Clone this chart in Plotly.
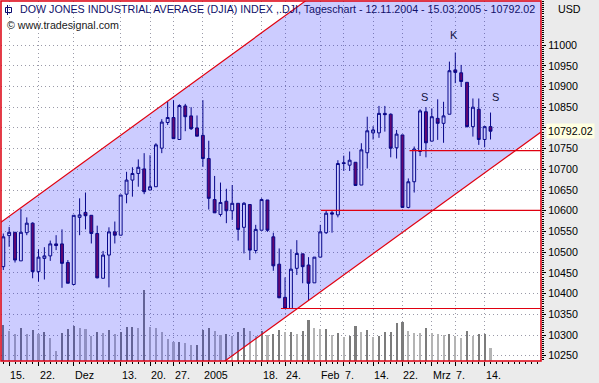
import plotly.graph_objects as go

# ---------------- data ----------------
DATES = [
    "2004-11-12",
    "2004-11-15", "2004-11-16", "2004-11-17", "2004-11-18", "2004-11-19",
    "2004-11-22", "2004-11-23", "2004-11-24", "2004-11-26",
    "2004-11-29", "2004-11-30", "2004-12-01", "2004-12-02", "2004-12-03",
    "2004-12-06", "2004-12-07", "2004-12-08", "2004-12-09", "2004-12-10",
    "2004-12-13", "2004-12-14", "2004-12-15", "2004-12-16", "2004-12-17",
    "2004-12-20", "2004-12-21", "2004-12-22", "2004-12-23",
    "2004-12-27", "2004-12-28", "2004-12-29", "2004-12-30", "2004-12-31",
    "2005-01-03", "2005-01-04", "2005-01-05", "2005-01-06", "2005-01-07",
    "2005-01-10", "2005-01-11", "2005-01-12", "2005-01-13", "2005-01-14",
    "2005-01-18", "2005-01-19", "2005-01-20", "2005-01-21",
    "2005-01-24", "2005-01-25", "2005-01-26", "2005-01-27", "2005-01-28",
    "2005-01-31", "2005-02-01", "2005-02-02", "2005-02-03", "2005-02-04",
    "2005-02-07", "2005-02-08", "2005-02-09", "2005-02-10", "2005-02-11",
    "2005-02-14", "2005-02-15", "2005-02-16", "2005-02-17", "2005-02-18",
    "2005-02-22", "2005-02-23", "2005-02-24", "2005-02-25",
    "2005-02-28", "2005-03-01", "2005-03-02", "2005-03-03", "2005-03-04",
    "2005-03-07", "2005-03-08", "2005-03-09", "2005-03-10", "2005-03-11",
    "2005-03-14", "2005-03-15",
]
OPEN = [10465, 10540, 10548, 10479, 10547, 10570, 10453, 10485, 10491, 10520,
        10520, 10475, 10422, 10584, 10596, 10589, 10545, 10437, 10493, 10549,
        10541, 10640, 10674, 10690, 10701, 10650, 10658, 10751, 10813,
        10825, 10772, 10853, 10829, 10800, 10782, 10726, 10627, 10591, 10623,
        10600, 10618, 10560, 10615, 10504, 10553, 10626, 10537, 10471,
        10391, 10364, 10461, 10496, 10469, 10426, 10488, 10547, 10595, 10590,
        10716, 10710, 10717, 10662, 10740, 10788, 10788, 10835, 10833, 10752,
        10783, 10608, 10670, 10743, 10839, 10768, 10823, 10811, 10833,
        10940, 10933, 10910, 10803, 10845, 10772, 10803]
HIGH = [10545, 10561, 10548, 10604, 10584, 10572, 10507, 10512, 10528, 10541,
        10555, 10481, 10589, 10630, 10644, 10589, 10564, 10503, 10560, 10574,
        10638, 10694, 10705, 10724, 10739, 10734, 10763, 10821, 10863,
        10867, 10857, 10858, 10850, 10830, 10867, 10769, 10684, 10668, 10653,
        10662, 10618, 10621, 10615, 10566, 10630, 10626, 10547, 10509,
        10439, 10507, 10529, 10496, 10488, 10488, 10566, 10600, 10600, 10722,
        10733, 10743, 10717, 10763, 10827, 10804, 10853, 10853, 10835, 10795,
        10783, 10678, 10755, 10845, 10850, 10847, 10869, 10863, 10960,
        10982, 10952, 10910, 10871, 10871, 10803, 10837]
LOW = [10457, 10513, 10475, 10479, 10541, 10437, 10429, 10434, 10479, 10505,
       10414, 10425, 10422, 10541, 10555, 10521, 10437, 10437, 10415, 10521,
       10541, 10618, 10634, 10658, 10640, 10650, 10658, 10739, 10807,
       10774, 10772, 10792, 10795, 10780, 10706, 10603, 10595, 10586, 10570,
       10578, 10528, 10497, 10481, 10497, 10553, 10549, 10455, 10389,
       10364, 10364, 10445, 10425, 10384, 10426, 10488, 10544, 10547, 10584,
       10696, 10696, 10661, 10662, 10702, 10772, 10776, 10791, 10729, 10726,
       10608, 10606, 10644, 10732, 10729, 10768, 10771, 10764, 10833,
       10908, 10899, 10801, 10779, 10759, 10753, 10772]
CLOSE = [10537, 10548, 10481, 10548, 10570, 10453, 10488, 10491, 10520, 10516,
         10473, 10425, 10589, 10590, 10588, 10545, 10438, 10493, 10549, 10541,
         10638, 10674, 10690, 10705, 10646, 10658, 10759, 10814, 10825,
         10774, 10854, 10827, 10798, 10780, 10726, 10630, 10595, 10620, 10600,
         10618, 10555, 10618, 10505, 10555, 10627, 10553, 10467, 10390,
         10364, 10459, 10497, 10465, 10425, 10488, 10549, 10594, 10592, 10714,
         10714, 10722, 10661, 10747, 10793, 10795, 10835, 10832, 10751, 10785,
         10608, 10670, 10749, 10841, 10764, 10827, 10811, 10829, 10938,
         10934, 10912, 10803, 10850, 10772, 10803, 10792.02]
VOLUME = [357, 300, 267, 327, 273, 310, 273, 293, 233, 100,
          280, 323, 350, 333, 317, 250, 293, 280, 310, 273,
          293, 340, 340, 327, 707, 340, 333, 293, 217,
          193, 193, 183, 160, 160, 307, 327, 300, 260, 267,
          250, 293, 327, 300, 250, 300, 260, 267, 310,
          287, 293, 267, 300, 407, 327, 317, 320, 260, 280,
          240, 250, 350, 287, 307, 240, 250, 287, 293, 377,
          390, 300, 283, 277, 333, 283, 267, 260, 267,
          250, 233, 300, 250, 267, 267, 133]

TICK_DATES = ["2004-11-15", "2004-11-22", "2004-12-01", "2004-12-13", "2004-12-20",
              "2004-12-27", "2005-01-03", "2005-01-10", "2005-01-18", "2005-01-24",
              "2005-02-01", "2005-02-07", "2005-02-14", "2005-02-22", "2005-03-01",
              "2005-03-07", "2005-03-14"]
TICK_TEXT = ["15.", "22.", "Dez", "13.", "20.", "27.", "2005", "", "18.", "24.",
             "Feb", "7.", "14.", "22.", "Mrz", "7.", "14."]
PRICE_TICKS = [10250, 10300, 10350, 10400, 10450, 10500, 10550, 10600, 10650,
               10700, 10750, 10800, 10850, 10900, 10950, 11000]
PRICE_TICK_TEXT = ["10250", "10300", "10350", "10400", "10450", "10500", "10550",
                   "10600", "10650", "10700", "10750", "", "10850", "10900",
                   "10950", "11000"]
LAST_PRICE = 10792.02

CHANNEL_X = [-0.4, 91.6]
CHANNEL_UPPER = [10572.1, 11519.7]
CHANNEL_LOWER = [9845.5, 10790.0]
SUPPORT_LEVELS = [10364, 10601, 10745]
SUPPORT_START = [47.3, 54.1, 69.2]
PATTERN_LABELS = ["S", "K", "S"]
PATTERN_X = [71.8, 76.7, 83.9]
PATTERN_Y = [10875, 11024, 10875]

TITLE = "DOW JONES INDUSTRIAL AVERAGE (DJIA) INDEX ,.DJI, Tageschart - 12.11.2004 - 15.03.2005 - 10792.02"
SUBTITLE = "© www.tradesignal.com"

# ---------------- figure ----------------
X = list(range(len(DATES)))
X_RANGE = [-0.39, 91.6]
PRICE_RANGE = [10237.3, 11106.3]
FONT = "Liberation Sans, Arial, sans-serif"
FS = 10.7
RED = "#e00010"
NAVY = "#0a0a6e"

vol_colors = []
for i, v in enumerate(VOLUME):
    if i == 0 or v >= VOLUME[i - 1]:
        vol_colors.append("#7c7c7c")
    else:
        vol_colors.append("#b4b4b4")

fig = go.Figure()

# volume bars (base axis, drawn below the price subplot)
fig.add_trace(go.Bar(x=X, y=VOLUME, marker=dict(color=vol_colors, line=dict(width=0)),
                     width=0.36, xaxis="x", yaxis="y", hoverinfo="skip"))

# channel fill
fig.add_trace(go.Scatter(
    x=[CHANNEL_X[0], CHANNEL_X[1], CHANNEL_X[1], CHANNEL_X[0], CHANNEL_X[0]],
    y=[CHANNEL_LOWER[0], CHANNEL_LOWER[1], CHANNEL_UPPER[1], CHANNEL_UPPER[0], CHANNEL_LOWER[0]],
    fill="toself", fillcolor="rgba(0,0,255,0.2)", line=dict(width=0),
    mode="lines", xaxis="x", yaxis="y2", hoverinfo="skip"))

# channel lines
for ys in (CHANNEL_UPPER, CHANNEL_LOWER):
    fig.add_trace(go.Scatter(x=CHANNEL_X, y=ys, mode="lines",
                             line=dict(color=RED, width=1.2),
                             xaxis="x", yaxis="y2", hoverinfo="skip"))

# support lines
for lvl, st in zip(SUPPORT_LEVELS, SUPPORT_START):
    fig.add_trace(go.Scatter(x=[st, X_RANGE[1]], y=[lvl, lvl], mode="lines",
                             line=dict(color=RED, width=1.2),
                             xaxis="x", yaxis="y2", hoverinfo="skip"))

# candles
fig.add_trace(go.Candlestick(
    x=X, open=OPEN, high=HIGH, low=LOW, close=CLOSE,
    increasing=dict(line=dict(color=NAVY, width=1), fillcolor="#ffffff"),
    decreasing=dict(line=dict(color=NAVY, width=1), fillcolor="#7d0a4b"),
    whiskerwidth=0, xaxis="x", yaxis="y2", hoverinfo="skip"))

# pattern labels
for t, px_, py_ in zip(PATTERN_LABELS, PATTERN_X, PATTERN_Y):
    fig.add_annotation(x=px_, y=py_, xref="x", yref="y2", text=t, showarrow=False,
                       font=dict(family=FONT, size=11, color="#101040"))

tickvals = [DATES.index(d) for d in TICK_DATES]

# date labels, left-aligned at their ticks
for tv, tt in zip(tickvals, TICK_TEXT):
    if tt:
        fig.add_annotation(x=tv, y=(361 - 375) / 360, xref="x", yref="paper",
                           text=tt, showarrow=False, xanchor="left", yanchor="middle",
                           xshift=-1, font=dict(family=FONT, size=FS, color="#000000"))

fig.update_layout(
    width=599, height=383,
    margin=dict(l=1, r=58, t=1, b=22),
    paper_bgcolor="#ebebeb", plot_bgcolor="#ffffff",
    showlegend=False,
    bargap=0,
    font=dict(family=FONT, size=FS, color="#000000"),
    xaxis=dict(range=X_RANGE, tickvals=tickvals, showticklabels=False,
               ticks="outside", ticklen=4, tickcolor="#000000", tickwidth=1,
               automargin=False,
               minor=dict(dtick=1, tick0=0, ticks="outside", ticklen=2,
                          tickcolor="#000000", showgrid=False),
               showgrid=True, gridcolor="#9a9aa8", griddash="1px,3px", gridwidth=1,
               zeroline=False, showline=False, rangeslider=dict(visible=False),
               fixedrange=True),
    yaxis=dict(range=[0, 3600], visible=False, fixedrange=True, automargin=False),
    yaxis2=dict(range=PRICE_RANGE, overlaying="y", side="right", anchor="x",
                tickvals=PRICE_TICKS, ticktext=PRICE_TICK_TEXT, automargin=False,
                ticks="outside", ticklen=4, tickcolor="#000000",
                minor=dict(dtick=5, tick0=10000, ticks="outside", ticklen=2,
                           tickcolor="#000000", showgrid=False),
                showgrid=True, gridcolor="#9a9aa8", griddash="1px,3px", gridwidth=1,
                zeroline=False, showline=False,
                tickfont=dict(family=FONT, size=FS, color="#000000"), fixedrange=True),
)

# plot border
fig.add_shape(type="rect", xref="paper", yref="paper", x0=0, x1=1, y0=0, y1=1,
              line=dict(color=RED, width=1.5), layer="above")

# title icon
fig.add_shape(type="rect", xref="paper", yref="paper",
              x0=4.5 / 540, x1=10.5 / 540, y0=(361 - 12.5) / 360, y1=(361 - 7.5) / 360,
              line=dict(color=NAVY, width=1))
fig.add_shape(type="line", xref="paper", yref="paper",
              x0=6.5 / 540, x1=6.5 / 540, y0=(361 - 15) / 360, y1=(361 - 5) / 360,
              line=dict(color=NAVY, width=1))

fig.add_annotation(x=17 / 540, y=(361 - 9) / 360, xref="paper", yref="paper",
                   text=TITLE, showarrow=False, xanchor="left", yanchor="middle",
                   font=dict(family=FONT, size=FS, color="#10106a"))
fig.add_annotation(x=4 / 540, y=(361 - 25) / 360, xref="paper", yref="paper",
                   text=SUBTITLE, showarrow=False, xanchor="left", yanchor="middle",
                   font=dict(family=FONT, size=FS, color="#202020"))
fig.add_annotation(x=555 / 540, y=(361 - 9) / 360, xref="paper", yref="paper",
                   text="USD", showarrow=False, xanchor="left", yanchor="middle",
                   font=dict(family=FONT, size=FS, color="#000000"))
fig.add_annotation(x=545 / 540, y=LAST_PRICE, xref="paper", yref="y2",
                   text=f"{LAST_PRICE:.2f}", showarrow=False, xanchor="left",
                   yanchor="middle", bgcolor="#ffffe1", borderpad=1,
                   font=dict(family=FONT, size=FS, color="#000000"))

fig.write_html("out.html")
